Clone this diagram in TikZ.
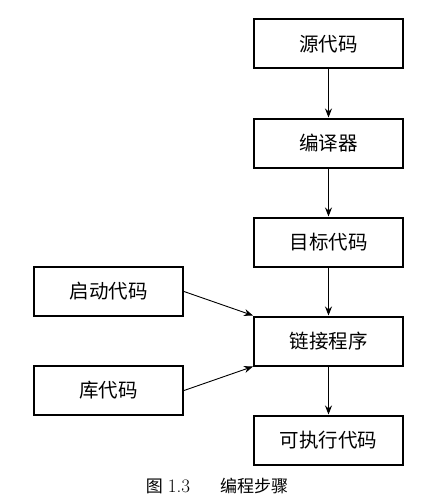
\documentclass[tikz,border=0pt]{standalone}
\usepackage{fontspec}
\usepackage{tikz}
\usetikzlibrary{arrows.meta,positioning}
\newfontfamily\cjk{Noto Sans CJK SC}
\tikzset{
	x=1pt, y=1pt,
	node distance=99pt,
	on grid,
	>={Stealth[length=9pt,width=7pt]}, % filled arrow heads
	stage/.style={draw, line width=2pt, minimum width=149pt, minimum height=49pt,
		font=\cjk\fontsize{19.5}{19.5}\selectfont},
	flow/.style={->, line width=0.9pt},
}
\begin{document}
\begin{tikzpicture}
      \useasboundingbox (0,0) rectangle (424,-495);

      \node[stage] (src) at (328.5,-44) {源代码};
      \node[stage, below=of src] (comp)  {编译器};
      \node[stage, below=of comp] (obj)   {目标代码};
      \node[stage, below=of obj] (link)  {链接程序};
      \node[stage, below=of link] (exe)   {可执行代码};
      \node[stage, above left=49.5pt and 220pt of link] (start) {启动代码};
      \node[stage, below left=49.5pt and 220pt of link] (lib)   {库代码};

      \draw[flow] (src) -- (comp);
      \draw[flow] (comp) -- (obj);
      \draw[flow] (obj) -- (link);
      \draw[flow] (link) -- (exe);
      \draw[flow] (start.east) -- (link.north west);
      \draw[flow] (lib.east) -- (link.south west);

      \node (cap) at (217,-486) {\cjk\fontsize{17}{17}\selectfont 图\hspace{5pt}{\rmfamily\fontsize{19}{19}\selectfont 1.3}\hspace{30pt}编程步骤};
    \end{tikzpicture}
\end{document}
